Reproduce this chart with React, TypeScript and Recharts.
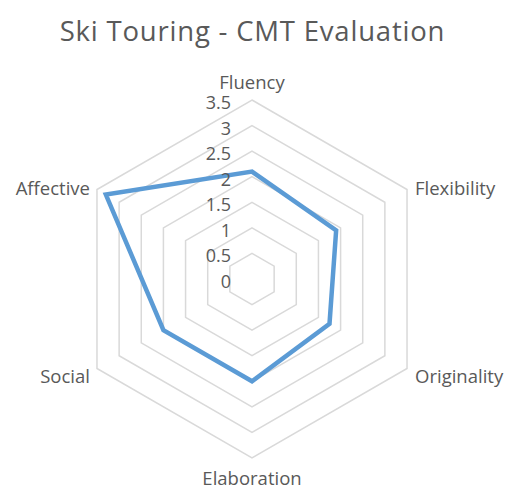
import React from 'react'
import { RadarChart, Radar, PolarGrid, PolarAngleAxis, PolarRadiusAxis } from 'recharts'

const categories = ['Fluency', 'Flexibility', 'Originality', 'Elaboration', 'Social', 'Affective']
const scores = [2.1, 1.9, 1.75, 2, 2, 3.3]
const radiusTicks = [0, 0.5, 1, 1.5, 2, 2.5, 3, 3.5]

const data = categories.map((name, i) => ({ name, score: scores[i] }))

const CX = 252
const CY = 279
// radius of the outer (3.5) ring
const R = 179
// recharts rounds the radius domain up to 4, so size the scale so that 3.5 lands on R
const MAX = 4
const FONT = '"Open Sans", sans-serif'
const TEXT = '#595959'

const AngleTick = (props: any) => {
  const { x, y, payload } = props
  const a = Math.atan2(CY - y, x - CX)
  const c = Math.cos(a)
  const s = Math.sin(a)
  const vx = CX + R * c
  const vy = CY - R * s
  let tx = vx
  let ty = vy
  let anchor = 'middle'
  if (Math.abs(c) < 0.1) {
    ty = s > 0 ? vy - 19 : vy + 19
  } else {
    anchor = c > 0 ? 'start' : 'end'
    tx = vx + (c > 0 ? 8 : -7)
    ty = vy + (s > 0 ? -2 : 7)
  }
  return (
    <text x={tx} y={ty} textAnchor={anchor} dominantBaseline="central" fill={TEXT} fontSize={18.5} fontFamily={FONT}>
      {payload.value}
    </text>
  )
}

const RadiusTick = (props: any) => {
  const { x, y, payload } = props
  return (
    <text x={x - 21} y={y + 2} textAnchor="end" dominantBaseline="central" fill={TEXT} fontSize={18} fontFamily={FONT}>
      {payload.value}
    </text>
  )
}

export default function App() {
  return (
    <div style={{ position: 'absolute', left: 0, top: 0, width: 505, height: 489, background: '#fff' }}>
      <div
        style={{
          position: 'absolute',
          left: 0,
          top: 12,
          width: 505,
          textAlign: 'center',
          fontFamily: FONT,
          fontSize: 27.5,
          letterSpacing: 0.8,
          color: TEXT,
          lineHeight: '38px',
        }}
      >
        Ski Touring - CMT Evaluation
      </div>
      <RadarChart
        width={505}
        height={489}
        data={data}
        cx={CX}
        cy={CY}
        outerRadius={(R * MAX) / 3.5}
        margin={{ top: 0, right: 0, bottom: 0, left: 0 }}
      >
        <PolarGrid gridType="polygon" radialLines={false} stroke="#d9d9d9" strokeWidth={1.5} />
        <PolarAngleAxis dataKey="name" tick={<AngleTick />} tickLine={false} axisLine={false} />
        <PolarRadiusAxis
          angle={90}
          type="number"
          domain={[0, MAX]}
          ticks={radiusTicks as any}
          tick={<RadiusTick />}
          axisLine={false}
          tickLine={false}
        />
        <Radar dataKey="score" stroke="#5b9bd5" strokeWidth={4.5} fill="none" fillOpacity={0} dot={false} isAnimationActive={false} />
      </RadarChart>
    </div>
  )
}
